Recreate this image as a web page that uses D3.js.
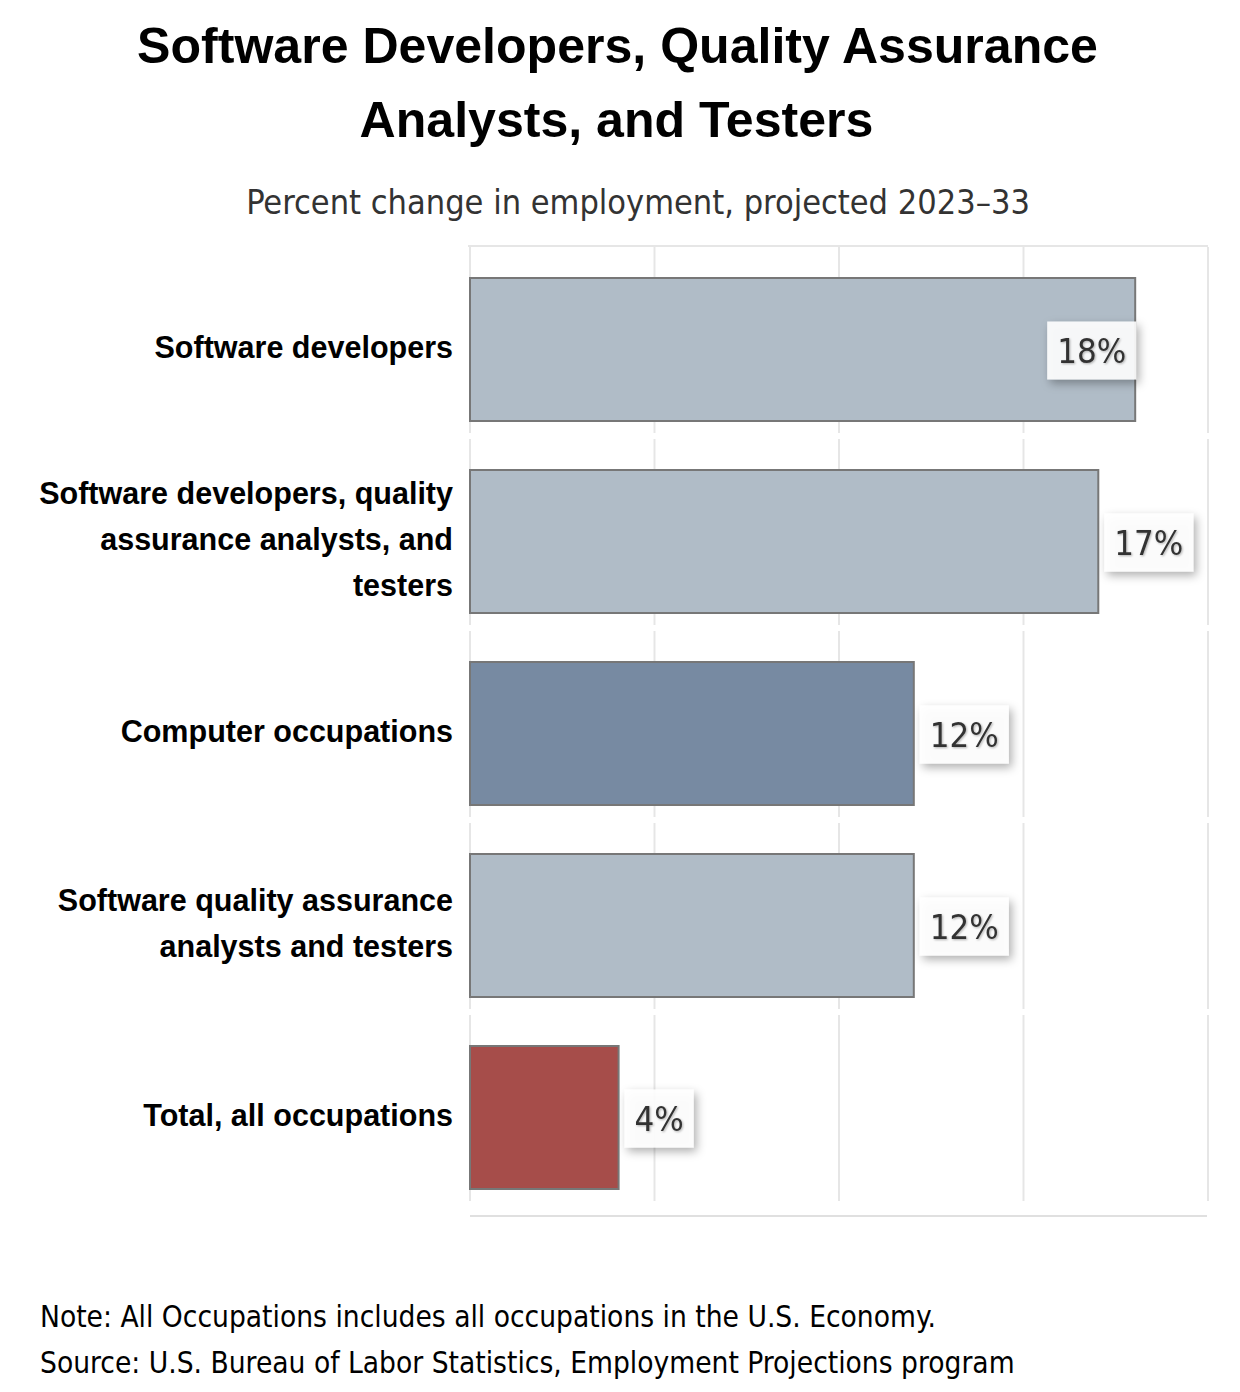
<!DOCTYPE html>
<html>
<head>
<meta charset="utf-8">
<script src="https://cdn.jsdelivr.net/npm/d3@7"></script>
<style>
  html, body { margin: 0; padding: 0; background: #fff; }
  svg { display: block; }
</style>
</head>
<body>
<div id="chart"></div>
<script>
// ---- data ----
const titleLines = ["Software Developers, Quality Assurance", "Analysts, and Testers"];
const subtitle = "Percent change in employment, projected 2023\u201333";
const categories = [
  "Software developers",
  "Software developers, quality assurance analysts, and testers",
  "Computer occupations",
  "Software quality assurance analysts and testers",
  "Total, all occupations"
];
const categoryLines = [
  ["Software developers"],
  ["Software developers, quality", "assurance analysts, and", "testers"],
  ["Computer occupations"],
  ["Software quality assurance", "analysts and testers"],
  ["Total, all occupations"]
];
const values = [18, 17, 12, 12, 4];
const barColors = ["#b0bcc7", "#b0bcc7", "#778aa2", "#b0bcc7", "#a64d4a"];
const xTicks = [0, 5, 10, 15, 20];
const notes = [
  "Note: All Occupations includes all occupations in the U.S. Economy.",
  "Source: U.S. Bureau of Labor Statistics, Employment Projections program"
];

// ---- layout ----
const W = 1240, H = 1392;
const plot = { left: 470, right: 1208, top: 247, bottom: 1207 };
const svg = d3.select("#chart").append("svg").attr("width", W).attr("height", H);

const defs = svg.append("defs");
const boxShadow = defs.append("filter").attr("id", "boxShadow")
  .attr("x", "-40%").attr("y", "-40%").attr("width", "190%").attr("height", "200%");
boxShadow.append("feDropShadow").attr("dx", 3).attr("dy", 4).attr("stdDeviation", 5)
  .attr("flood-color", "#000").attr("flood-opacity", 0.35);
const textShadow = defs.append("filter").attr("id", "textShadow")
  .attr("x", "-20%").attr("y", "-20%").attr("width", "150%").attr("height", "150%");
textShadow.append("feDropShadow").attr("dx", 1).attr("dy", 1).attr("stdDeviation", 0.8)
  .attr("flood-color", "#000").attr("flood-opacity", 0.3);

const x = d3.scaleLinear().domain([0, 20]).range([plot.left, plot.right]);
const y = d3.scaleBand().domain(categories).range([plot.top, plot.bottom]).padding(0);

const condensed = "'DejaVu Sans Condensed', 'DejaVu Sans', sans-serif";
const arial = "'Liberation Sans', Arial, sans-serif";

function fit(sel, target) {
  const n = sel.node();
  const fs = parseFloat(sel.attr("font-size"));
  const w = n.getComputedTextLength();
  if (w > 0) sel.attr("font-size", (fs * target / w).toFixed(2));
  return sel;
}

// title
const tLine1 = svg.append("text").attr("x", 617.5).attr("y", 63).attr("text-anchor", "middle")
  .attr("font-family", arial).attr("font-weight", "bold").attr("font-size", 44).attr("fill", "#000")
  .text(titleLines[0]);
fit(tLine1, 961);
const tSize = tLine1.attr("font-size");
svg.append("text").attr("x", 616.5).attr("y", 137).attr("text-anchor", "middle")
  .attr("font-family", arial).attr("font-weight", "bold").attr("font-size", tSize).attr("fill", "#000")
  .text(titleLines[1]);

// subtitle
const sub = svg.append("text").attr("x", 638).attr("y", 214).attr("text-anchor", "middle")
  .attr("font-family", condensed).attr("font-stretch", "condensed").attr("font-size", 30).attr("fill", "#333")
  .text(subtitle);
fit(sub, 784);

// top border
svg.append("line").attr("x1", plot.left - 2).attr("x2", plot.right).attr("y1", 246).attr("y2", 246)
  .attr("stroke", "#e6e6e6").attr("stroke-width", 2);

// gridline segments per row
const grid = svg.append("g");
categories.forEach(c => {
  grid.selectAll(null).data(xTicks).enter().append("line")
    .attr("x1", d => x(d)).attr("x2", d => x(d))
    .attr("y1", y(c)).attr("y2", y(c) + y.bandwidth() - 6)
    .attr("stroke", "#e6e6e6").attr("stroke-width", 2);
});

// bottom axis line
svg.append("line").attr("x1", plot.left).attr("x2", plot.right - 1).attr("y1", 1216).attr("y2", 1216)
  .attr("stroke", "#e0e0e0").attr("stroke-width", 2);

// bars
const barOffset = 31, barH = 143;
svg.append("g").selectAll("rect").data(categories).enter().append("rect")
  .attr("x", x(0))
  .attr("y", c => y(c) + barOffset)
  .attr("width", (c, i) => x(values[i]) - x(0) + 1)
  .attr("height", barH)
  .attr("fill", (c, i) => barColors[i])
  .attr("stroke", "#777").attr("stroke-width", 2);

// category labels
const catG = svg.append("g");
categories.forEach((c, i) => {
  const cy = y(c) + barOffset + barH / 2;
  const lines = categoryLines[i];
  const t = catG.append("text").attr("text-anchor", "end")
    .attr("font-family", arial).attr("font-weight", "bold").attr("font-size", 27).attr("fill", "#000");
  lines.forEach((ln, j) => {
    t.append("tspan").attr("x", 453)
      .attr("y", cy + 8 + (j - (lines.length - 1) / 2) * 46)
      .text(ln);
  });
});
(function () {
  const probe = catG.append("text").attr("font-family", arial).attr("font-weight", "bold")
    .attr("font-size", 27).text(categoryLines[1][0]);
  const w = probe.node().getComputedTextLength();
  probe.remove();
  const fs = 27 * 414 / w;
  catG.selectAll("text").attr("font-size", fs.toFixed(2));
})();

// value labels
const lblG = svg.append("g");
const probeV = lblG.append("text").attr("font-family", condensed).attr("font-stretch", "condensed")
  .attr("font-size", 34).text("18%");
const vw = probeV.node().getComputedTextLength();
probeV.remove();
const vFont = 34 * 69 / vw;
const boxH = 58, padX = 10;
categories.forEach((c, i) => {
  const end = x(values[i]) + 2;
  const cy = y(c) + barOffset + barH / 2 + 1;
  const t = lblG.append("text")
    .attr("text-anchor", "middle")
    .attr("font-family", condensed).attr("font-stretch", "condensed")
    .attr("font-size", vFont.toFixed(2)).attr("fill", "#333")
    .attr("filter", "url(#textShadow)")
    .text(values[i] + "%");
  const tw = t.node().getComputedTextLength();
  const boxW = Math.round(tw + 2 * padX);
  let bx = end + 5;
  if (bx + boxW > plot.right) bx = end - boxW;
  t.attr("x", bx + boxW / 2).attr("y", cy + vFont * 0.36);
  lblG.insert("rect", () => t.node())
    .attr("x", bx).attr("y", cy - boxH / 2).attr("width", boxW).attr("height", boxH)
    .attr("fill", "rgba(255,255,255,0.9)").attr("filter", "url(#boxShadow)");
});

// notes
const n1 = svg.append("text").attr("x", 40).attr("y", 1327)
  .attr("font-family", condensed).attr("font-stretch", "condensed").attr("font-size", 27).attr("fill", "#000")
  .text(notes[0]);
fit(n1, 896);
svg.append("text").attr("x", 40).attr("y", 1373)
  .attr("font-family", condensed).attr("font-stretch", "condensed").attr("font-size", n1.attr("font-size")).attr("fill", "#000")
  .text(notes[1]);
</script>
</body>
</html>
